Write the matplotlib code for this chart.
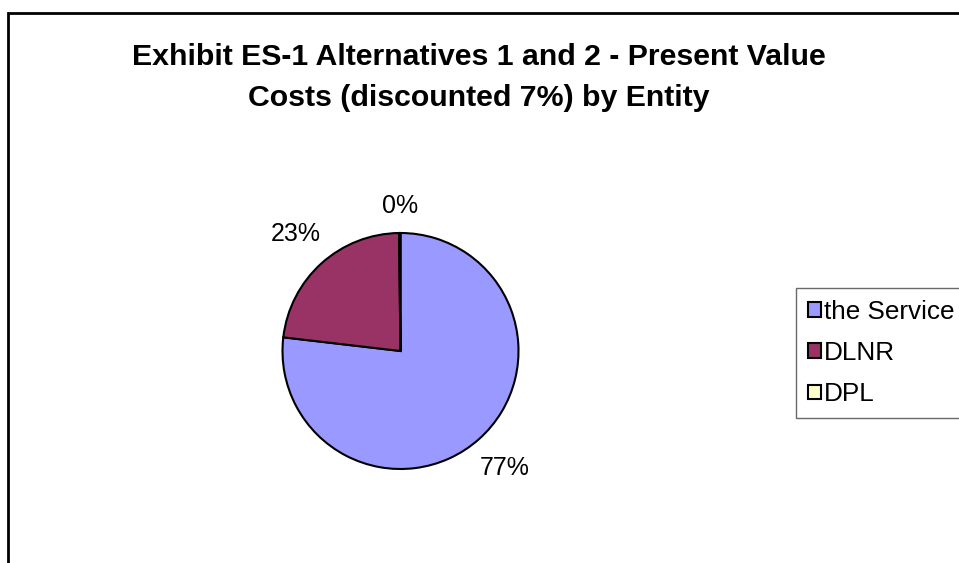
import numpy as np
import matplotlib.pyplot as plt
from matplotlib.patches import Rectangle

# datos del grafico
entidades = ['the Service', 'DLNR', 'DPL']
costos = [77.0, 23.0, 0.2]
colores = ['#9999FF', '#993366', '#FFFFCC']
titulo = 'Exhibit ES-1 Alternatives 1 and 2 - Present Value\nCosts (discounted 7%) by Entity'

plt.rcParams['font.family'] = ['Liberation Sans', 'DejaVu Sans']

W, H = 959, 563
fig = plt.figure(figsize=(W / 100, H / 100), dpi=100)

# marco del area del grafico (cortado a la derecha y abajo)
fig.patches.append(Rectangle((7.5 / W, -0.2), 1.2, 1.2 - 13 / H,
                             transform=fig.transFigure, fill=False,
                             edgecolor='black', linewidth=2))

# titulo: baseline de la ultima linea
fig.text(479 / W, 1 - 106 / H, titulo, ha='center', va='baseline',
         fontsize=21.8, fontweight='bold', linespacing=1.57)

# pastel
cx, cy, R = 400.5, 351, 118
ax = fig.add_axes([(cx - R) / W, 1 - (cy + R) / H, 2 * R / W, 2 * R / H])
wedges, _ = ax.pie(costos, colors=colores, startangle=90, counterclock=False,
                   wedgeprops=dict(edgecolor='black', linewidth=1.5))
ax.set_xlim(-1, 1)
ax.set_ylim(-1, 1)
ax.set_aspect('equal')

total = sum(costos)
for w, v in zip(wedges, costos):
    ang = np.deg2rad((w.theta1 + w.theta2) / 2)
    r = 1.23 + 0.1 * abs(np.sin(2 * ang))
    ax.text(r * np.cos(ang), r * np.sin(ang), f'{v / total * 100:.0f}%',
            ha='center', va='center', fontsize=18)

leg = fig.legend(wedges, entidades, loc='upper left',
                 bbox_to_anchor=(796 / W, 1 - 288 / H), fontsize=18.8,
                 frameon=True, fancybox=False, handlelength=0.5,
                 handleheight=0.5, handletextpad=0.12, labelspacing=0.66,
                 borderpad=0.45, borderaxespad=0)
leg.get_frame().set_edgecolor('#444444')
leg.get_frame().set_linewidth(1)
for p in leg.get_patches():
    p.set_linewidth(1.5)

fig.savefig('out.png', dpi=100)
